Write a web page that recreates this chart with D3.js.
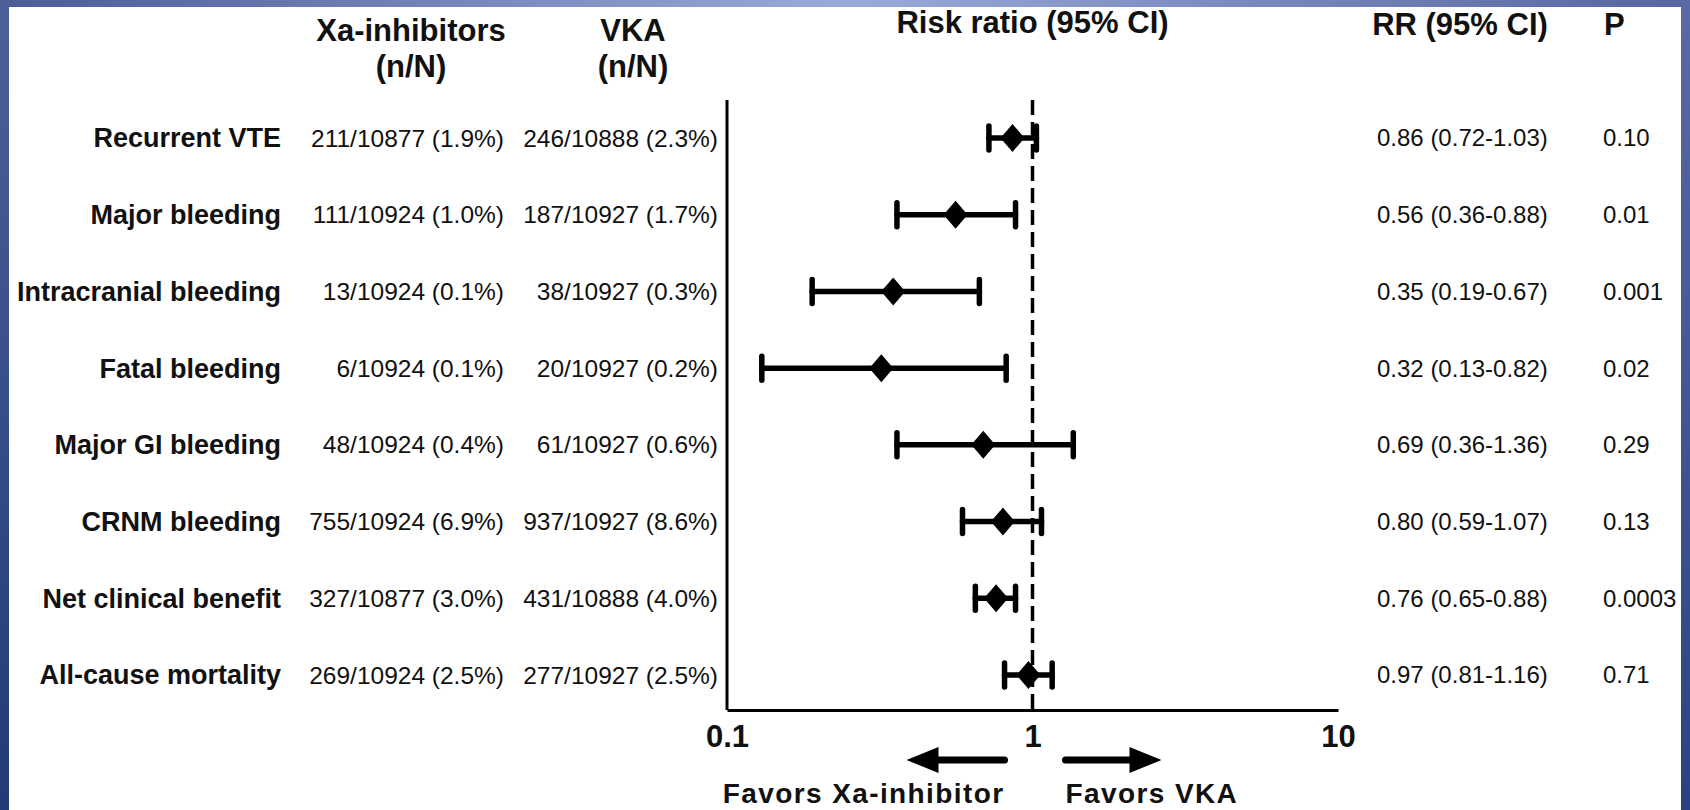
<!DOCTYPE html>
<html>
<head>
<meta charset="utf-8">
<script src="https://cdn.jsdelivr.net/npm/d3@7"></script>
<style>
  body { margin: 0; background: #fff; }
  svg text { font-family: "Liberation Sans", Arial, sans-serif; fill: #111; }
</style>
</head>
<body>
<svg id="chart" width="1690" height="810"></svg>
<script>
const width = 1690;
const height = 810;

// data
const outcomes = ["Recurrent VTE", "Major bleeding", "Intracranial bleeding", "Fatal bleeding",
  "Major GI bleeding", "CRNM bleeding", "Net clinical benefit", "All-cause mortality"];
const xaEvents = [211, 111, 13, 6, 48, 755, 327, 269];
const xaTotals = [10877, 10924, 10924, 10924, 10924, 10924, 10877, 10924];
const vkaEvents = [246, 187, 38, 20, 61, 937, 431, 277];
const vkaTotals = [10888, 10927, 10927, 10927, 10927, 10927, 10888, 10927];
const riskRatio = [0.86, 0.56, 0.35, 0.32, 0.69, 0.80, 0.76, 0.97];
const ciLow = [0.72, 0.36, 0.19, 0.13, 0.36, 0.59, 0.65, 0.81];
const ciHigh = [1.03, 0.88, 0.67, 0.82, 1.36, 1.07, 0.88, 1.16];
const pValues = ["0.10", "0.01", "0.001", "0.02", "0.29", "0.13", "0.0003", "0.71"];
const xTicks = [0.1, 1, 10];

const svg = d3.select("#chart");

const x = d3.scaleLog().domain([0.1, 10]).range([727, 1338]);
const y = d3.scalePoint().domain(outcomes).range([138, 675]);
const axisTop = 100;
const axisY = 710;

const rows = outcomes.map((name, i) => ({
  name,
  xa: `${xaEvents[i]}/${xaTotals[i]} (${(100 * xaEvents[i] / xaTotals[i]).toFixed(1)}%)`,
  vka: `${vkaEvents[i]}/${vkaTotals[i]} (${(100 * vkaEvents[i] / vkaTotals[i]).toFixed(1)}%)`,
  rr: riskRatio[i], lo: ciLow[i], hi: ciHigh[i], p: pValues[i]
}));
const f2 = d3.format(".2f");

// white panel
svg.append("rect").attr("x", 0).attr("y", 0).attr("width", width).attr("height", height).attr("fill", "#fff");

// column headers
const headers = svg.append("g").attr("font-weight", "bold").attr("font-size", 31);
headers.append("text").attr("x", 411).attr("y", 41).attr("text-anchor", "middle").text("Xa-inhibitors");
headers.append("text").attr("x", 411).attr("y", 77).attr("text-anchor", "middle").text("(n/N)");
headers.append("text").attr("x", 633).attr("y", 41).attr("text-anchor", "middle").text("VKA");
headers.append("text").attr("x", 633).attr("y", 77).attr("text-anchor", "middle").text("(n/N)");
headers.append("text").attr("x", x(1)).attr("y", 33).attr("text-anchor", "middle").text("Risk ratio (95% CI)");
headers.append("text").attr("x", 1460).attr("y", 35).attr("text-anchor", "middle").text("RR (95% CI)");
headers.append("text").attr("x", 1604).attr("y", 35).text("P");

// table rows
const row = svg.append("g").selectAll("g").data(rows).join("g")
  .attr("transform", d => `translate(0,${y(d.name)})`);

row.append("text").attr("x", 281).attr("dy", "0.35em").attr("text-anchor", "end")
  .attr("font-weight", "bold").attr("font-size", 27).text(d => d.name);
row.append("text").attr("x", 504).attr("dy", "0.35em").attr("text-anchor", "end")
  .attr("font-size", 24.5).text(d => d.xa);
row.append("text").attr("x", 718).attr("dy", "0.35em").attr("text-anchor", "end")
  .attr("font-size", 24.5).text(d => d.vka);
row.append("text").attr("x", 1377).attr("dy", "0.35em")
  .attr("font-size", 24).text(d => `${f2(d.rr)} (${f2(d.lo)}-${f2(d.hi)})`);
row.append("text").attr("x", 1603).attr("dy", "0.35em")
  .attr("font-size", 24).text(d => d.p);

// axes
svg.append("line").attr("x1", x(0.1)).attr("x2", x(0.1)).attr("y1", axisTop).attr("y2", axisY)
  .attr("stroke", "#000").attr("stroke-width", 3);

const xAxis = svg.append("g").attr("transform", `translate(0,${axisY})`)
  .call(d3.axisBottom(x).tickValues(xTicks).tickSize(0).tickPadding(15).tickFormat(d => String(d)));
xAxis.select(".domain").attr("stroke", "#000").attr("stroke-width", 3);
xAxis.selectAll("text").attr("font-size", 31).attr("font-weight", "bold")
  .attr("font-family", "Liberation Sans, Arial, sans-serif").attr("fill", "#111");

// line of no effect
svg.append("line").attr("x1", x(1)).attr("x2", x(1)).attr("y1", axisTop).attr("y2", axisY)
  .attr("stroke", "#000").attr("stroke-width", 3.5).attr("stroke-dasharray", "15,7");

// confidence intervals and point estimates
const marks = svg.append("g").selectAll("g").data(rows).join("g")
  .attr("transform", d => `translate(0,${y(d.name)})`)
  .attr("stroke", "#000").attr("stroke-width", 5.5).attr("stroke-linecap", "round");

marks.append("line").attr("x1", d => x(d.lo)).attr("x2", d => x(d.hi));
marks.append("line").attr("x1", d => x(d.lo)).attr("x2", d => x(d.lo)).attr("y1", -12).attr("y2", 12);
marks.append("line").attr("x1", d => x(d.hi)).attr("x2", d => x(d.hi)).attr("y1", -12).attr("y2", 12);
marks.append("path").attr("stroke", "none").attr("fill", "#000")
  .attr("d", d => `M${x(d.rr) - 12},0L${x(d.rr)},-14L${x(d.rr) + 12},0L${x(d.rr)},14Z`);

// favour arrows
const x1 = x(1);
const arrows = svg.append("g").attr("fill", "#000");
arrows.append("line").attr("x1", x1 - 28).attr("x2", x1 - 96).attr("y1", 760).attr("y2", 760)
  .attr("stroke", "#000").attr("stroke-width", 7).attr("stroke-linecap", "round");
arrows.append("path").attr("d", `M${x1 - 126},760L${x1 - 94},747L${x1 - 94},773Z`);
arrows.append("line").attr("x1", x1 + 33).attr("x2", x1 + 101).attr("y1", 760).attr("y2", 760)
  .attr("stroke", "#000").attr("stroke-width", 7).attr("stroke-linecap", "round");
arrows.append("path").attr("d", `M${x1 + 129},760L${x1 + 97},747L${x1 + 97},773Z`);

const favors = svg.append("g").attr("font-weight", "bold").attr("font-size", 28).attr("letter-spacing", 1.4);
favors.append("text").attr("x", x1 - 28).attr("y", 803).attr("text-anchor", "end").text("Favors Xa-inhibitor");
favors.append("text").attr("x", x1 + 33).attr("y", 803).text("Favors VKA");

// slide frame
const defs = svg.append("defs");
const gTop = defs.append("linearGradient").attr("id", "gTop");
gTop.append("stop").attr("offset", 0).attr("stop-color", "#4a5d97");
gTop.append("stop").attr("offset", 0.5).attr("stop-color", "#9aaad8");
gTop.append("stop").attr("offset", 1).attr("stop-color", "#5566a0");
const gLeft = defs.append("linearGradient").attr("id", "gLeft").attr("x2", 0).attr("y2", 1);
gLeft.append("stop").attr("offset", 0).attr("stop-color", "#4d6198");
gLeft.append("stop").attr("offset", 1).attr("stop-color", "#233a78");
const gRight = defs.append("linearGradient").attr("id", "gRight").attr("x2", 0).attr("y2", 1);
gRight.append("stop").attr("offset", 0).attr("stop-color", "#5a6aa4");
gRight.append("stop").attr("offset", 1).attr("stop-color", "#2b4282");

svg.append("rect").attr("x", 0).attr("y", 0).attr("width", width).attr("height", 7).attr("fill", "url(#gTop)");
svg.append("rect").attr("x", 0).attr("y", 0).attr("width", 9).attr("height", height).attr("fill", "url(#gLeft)");
svg.append("rect").attr("x", 1681).attr("y", 0).attr("width", 9).attr("height", height).attr("fill", "url(#gRight)");
</script>
</body>
</html>
